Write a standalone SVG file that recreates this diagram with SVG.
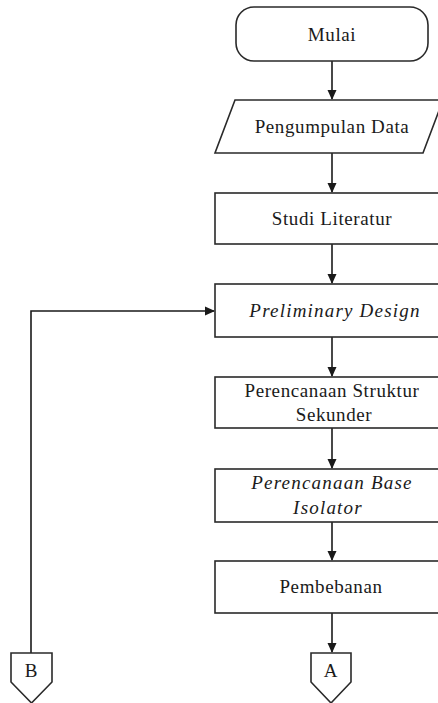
<svg xmlns="http://www.w3.org/2000/svg" width="438" height="703" viewBox="0 0 438 703">
<style>
.s{fill:#fff;stroke:#2a2a2a;stroke-width:1.6}
.t{font-family:'Liberation Serif','Times New Roman',serif;font-size:19px;letter-spacing:0.6px;fill:#1a1a1a;text-anchor:middle}
.i{font-style:italic;letter-spacing:1.2px}
.c{fill:none;stroke:#1a1a1a;stroke-width:1.6}
</style>
<defs>
<marker id="ar" markerWidth="10" markerHeight="10" refX="9" refY="5" orient="auto" markerUnits="userSpaceOnUse">
<path d="M0,0.5 L10,5 L0,9.5 Z" fill="#1a1a1a"/>
</marker>
</defs>
<rect width="438" height="703" fill="#fff"/>
<g id="connectors">
<line class="c" x1="332" y1="61" x2="332" y2="99" marker-end="url(#ar)"/>
<line class="c" x1="332" y1="153" x2="332" y2="192" marker-end="url(#ar)"/>
<line class="c" x1="332" y1="244" x2="332" y2="283" marker-end="url(#ar)"/>
<line class="c" x1="332" y1="337" x2="332" y2="376" marker-end="url(#ar)"/>
<line class="c" x1="332" y1="428" x2="332" y2="468" marker-end="url(#ar)"/>
<line class="c" x1="332" y1="522" x2="332" y2="560" marker-end="url(#ar)"/>
<line class="c" x1="332" y1="613" x2="332" y2="652" marker-end="url(#ar)"/>
<polyline class="c" points="31,653 31,311 214,311" marker-end="url(#ar)"/>
</g>
<g id="mulai">
<rect class="s" x="236" y="7" width="192" height="54" rx="18" ry="18"/>
<text class="t" x="332" y="41">Mulai</text>
</g>
<g id="pengumpulan">
<polygon class="s" points="235,100 443,100 423,153 215,153"/>
<text class="t" x="332" y="133">Pengumpulan Data</text>
</g>
<g id="studi">
<rect class="s" x="215" y="193" width="234" height="51"/>
<text class="t" x="332" y="225">Studi Literatur</text>
</g>
<g id="preliminary">
<rect class="s" x="215" y="284" width="234" height="53"/>
<text class="t i" x="335" y="317">Preliminary Design</text>
</g>
<g id="sekunder">
<rect class="s" x="215" y="377" width="234" height="51"/>
<text class="t" x="332" y="397">Perencanaan Struktur</text>
<text class="t" x="334" y="421">Sekunder</text>
</g>
<g id="isolator">
<rect class="s" x="215" y="469" width="234" height="53"/>
<text class="t i" x="332" y="489">Perencanaan Base</text>
<text class="t i" x="328" y="514">Isolator</text>
</g>
<g id="pembebanan">
<rect class="s" x="215" y="561" width="234" height="52"/>
<text class="t" x="331" y="593">Pembebanan</text>
</g>
<g id="connA">
<polygon class="s" points="311,653 351,653 351,682 331,703 311,682"/>
<text class="t" x="331" y="677">A</text>
</g>
<g id="connB">
<polygon class="s" points="11,653 52,653 52,682 31.5,703 11,682"/>
<text class="t" x="31.5" y="677">B</text>
</g>
</svg>
